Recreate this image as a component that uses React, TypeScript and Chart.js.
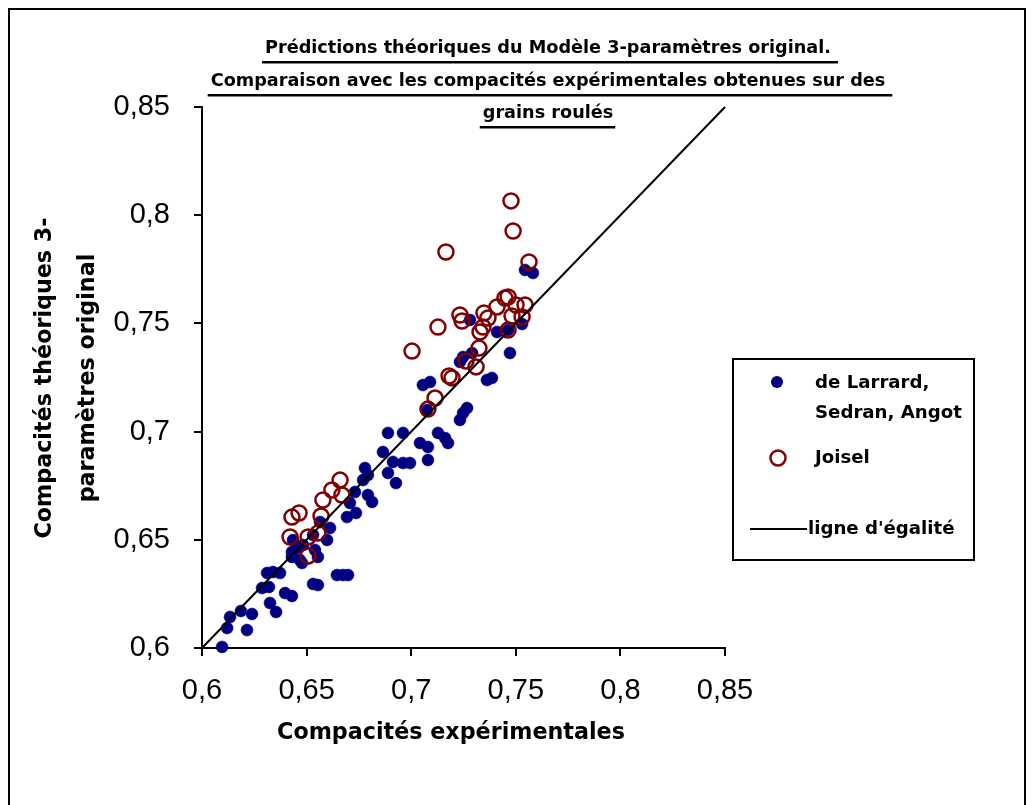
import React, { useEffect, useRef } from "react";
import { Chart, registerables } from "chart.js";

Chart.register(...registerables);

// ---- Data ----
const larrardX = [
  0.6096, 0.612, 0.6134, 0.6186, 0.6239, 0.6215, 0.6287, 0.632, 0.6311, 0.6339,
  0.6373, 0.6325, 0.6354, 0.6397, 0.643, 0.643, 0.6468, 0.6435, 0.643, 0.6478,
  0.654, 0.6554, 0.6598, 0.6564, 0.6612, 0.6645, 0.6674, 0.6698, 0.6531, 0.6554,
  0.6707, 0.6736, 0.6731, 0.6779, 0.677, 0.6793, 0.6793, 0.6813, 0.6865, 0.6889,
  0.6961, 0.6913, 0.6961, 0.6994, 0.6889, 0.6927, 0.7042, 0.708, 0.708, 0.7128,
  0.7162, 0.7176, 0.7233, 0.7248, 0.7267, 0.7076, 0.7056, 0.709, 0.7362, 0.7386,
  0.7233, 0.7248, 0.7291, 0.7281, 0.741, 0.7463, 0.753, 0.7472, 0.7544, 0.7582,
  0.6454, 0.6483, 0.6531, 0.6693,
];
const larrardY = [
  0.6005, 0.6092, 0.6143, 0.6171, 0.6157, 0.6083, 0.6277, 0.6282, 0.6347, 0.6351,
  0.6347, 0.6208, 0.6166, 0.6254, 0.624, 0.6421, 0.6407, 0.6499, 0.6444, 0.6393,
  0.6453, 0.6421, 0.6499, 0.6582, 0.6555, 0.6337, 0.6337, 0.6337, 0.6296, 0.6291,
  0.667, 0.6624, 0.6721, 0.6832, 0.6776, 0.6799, 0.6707, 0.6675, 0.6906, 0.6994,
  0.6994, 0.686, 0.6855, 0.6855, 0.6809, 0.6762, 0.6947, 0.6929, 0.6869, 0.6994,
  0.697, 0.6947, 0.7054, 0.7086, 0.7109, 0.71, 0.7215, 0.7229, 0.7238, 0.7248,
  0.7322, 0.7345, 0.7363, 0.7516, 0.746, 0.7469, 0.7497, 0.7363, 0.7747, 0.7733,
  0.6462, 0.6476, 0.6522, 0.6605,
];
const joiselX = [
  0.7477, 0.7487, 0.7166, 0.7563, 0.7004, 0.7128, 0.7233, 0.7243, 0.7348, 0.7367,
  0.741, 0.7448, 0.7463, 0.7501, 0.7544, 0.7482, 0.753, 0.7463, 0.7329, 0.7343,
  0.7324, 0.7262, 0.731, 0.7181, 0.7195, 0.7114, 0.708, 0.666, 0.6621, 0.6669,
  0.6578, 0.6464, 0.643, 0.6569, 0.6421, 0.6507, 0.6554, 0.6507,
];
const joiselY = [
  0.8066, 0.7927, 0.783, 0.7784, 0.7372, 0.7483, 0.7539, 0.7511, 0.7548, 0.7525,
  0.7576, 0.7617, 0.7622, 0.7585, 0.7585, 0.7534, 0.753, 0.7469, 0.746, 0.7483,
  0.7386, 0.7326, 0.7299, 0.7257, 0.7248, 0.7155, 0.7104, 0.6776, 0.673, 0.6707,
  0.6684, 0.6624, 0.6605, 0.661, 0.6513, 0.6513, 0.6531, 0.6425,
];
const equalityX = [0.6, 0.85];
const equalityY = [0.6, 0.85];
const axisTicks = [0.6, 0.65, 0.7, 0.75, 0.8, 0.85];

const titleLines = [
  "Prédictions théoriques du Modèle 3-paramètres original.",
  "Comparaison avec les compacités expérimentales obtenues sur des",
  "grains roulés",
];
const xTitle = "Compacités expérimentales";
const yTitleLines = ["Compacités théoriques 3-", "paramètres original"];
const legendLabels = ["de Larrard,", "Sedran, Angot", "Joisel", "ligne d'égalité"];

const BLUE = "#000080";
const RED = "#800000";
const FAMILY = '"DejaVu Sans", sans-serif';

const fmt = (v: number) => String(+Number(v).toFixed(2)).replace(".", ",");

function fitSize(ctx: CanvasRenderingContext2D, text: string, target: number) {
  ctx.font = `bold 20px ${FAMILY}`;
  const w = ctx.measureText(text).width;
  return (20 * target) / w;
}

const decor = {
  id: "decor",
  beforeDraw(chart: any) {
    const { ctx, width, height } = chart;
    ctx.save();
    ctx.fillStyle = "#fff";
    ctx.fillRect(0, 0, width, height);
    ctx.restore();
  },
  afterDraw(chart: any) {
    const ctx: CanvasRenderingContext2D = chart.ctx;
    ctx.save();
    // frame
    ctx.strokeStyle = "#000";
    ctx.lineWidth = 2;
    ctx.strokeRect(1, 1, 1016, 900);

    // title
    ctx.fillStyle = "#000";
    const ts = fitSize(ctx, titleLines[1], 675);
    ctx.font = `bold ${ts}px ${FAMILY}`;
    ctx.textAlign = "center";
    ctx.textBaseline = "middle";
    const tY = [40, 73, 105];
    titleLines.forEach((line, i) => {
      const w = ctx.measureText(line).width;
      ctx.fillText(line, 540, tY[i]);
      const left = 540 - w / 2;
      ctx.fillRect(left - 3, tY[i] + 13, w + (i === 2 ? 5 : 10), 2.5);
    });

    // x title
    const as = fitSize(ctx, xTitle, 348);
    ctx.font = `bold ${as}px ${FAMILY}`;
    ctx.fillText(xTitle, 443, 725);

    // y title
    ctx.save();
    ctx.translate(37, 370);
    ctx.rotate(-Math.PI / 2);
    ctx.fillText(yTitleLines[0], 0, 0);
    ctx.restore();
    ctx.save();
    ctx.translate(80, 370);
    ctx.rotate(-Math.PI / 2);
    ctx.fillText(yTitleLines[1], 0, 0);
    ctx.restore();

    // legend
    ctx.lineWidth = 2;
    ctx.strokeRect(725, 351, 241, 201);
    const ls = fitSize(ctx, legendLabels[1], 147);
    ctx.font = `bold ${ls}px ${FAMILY}`;
    ctx.textAlign = "left";
    ctx.fillText(legendLabels[0], 807, 375);
    ctx.fillText(legendLabels[1], 807, 405);
    ctx.fillText(legendLabels[2], 807, 450);
    ctx.fillText(legendLabels[3], 800, 521);
    ctx.fillStyle = BLUE;
    ctx.beginPath();
    ctx.arc(769, 374, 6, 0, Math.PI * 2);
    ctx.fill();
    ctx.strokeStyle = RED;
    ctx.lineWidth = 2.5;
    ctx.beginPath();
    ctx.arc(770, 450, 7.5, 0, Math.PI * 2);
    ctx.stroke();
    ctx.strokeStyle = "#000";
    ctx.lineWidth = 2;
    ctx.beginPath();
    ctx.moveTo(742, 521);
    ctx.lineTo(799, 521);
    ctx.stroke();
    ctx.restore();
  },
};

export default function App() {
  const ref = useRef<HTMLCanvasElement | null>(null);
  useEffect(() => {
    if (!ref.current) return;
    const tickFont = { family: '"Liberation Sans", Arial, sans-serif', size: 29 };
    const chart = new Chart(ref.current, {
      type: "scatter",
      data: {
        datasets: [
          {
            label: "ligne d'égalité",
            type: "line",
            data: equalityX.map((x, i) => ({ x, y: equalityY[i] })),
            borderColor: "#000",
            borderWidth: 2,
            pointRadius: 0,
            showLine: true,
            fill: false,
            order: 1,
            clip: false,
          } as any,
          {
            label: "Joisel",
            data: joiselX.map((x, i) => ({ x, y: joiselY[i] })),
            backgroundColor: "rgba(0,0,0,0)",
            borderColor: RED,
            pointRadius: 7.5,
            pointBorderWidth: 2.5,
            order: 2,
            clip: false,
          },
          {
            label: "de Larrard, Sedran, Angot",
            data: larrardX.map((x, i) => ({ x, y: larrardY[i] })),
            backgroundColor: BLUE,
            borderColor: BLUE,
            pointRadius: 6,
            pointBorderWidth: 0.5,
            order: 3,
            clip: false,
          },
        ],
      },
      options: {
        animation: false,
        responsive: false,
        events: [],
        layout: { padding: { left: 0, top: 99, right: 301, bottom: 0 } },
        plugins: { legend: { display: false }, tooltip: { enabled: false }, title: { display: false } },
        scales: {
          x: {
            type: "linear",
            min: 0.6,
            max: 0.85,
            afterBuildTicks: (s: any) => {
              s.ticks = axisTicks.map((v) => ({ value: v }));
            },
            afterFit: (s: any) => {
              s.height = 157;
            },
            ticks: {
              callback: (v: any) => fmt(v),
              font: tickFont,
              color: "#000",
              padding: 18,
              maxRotation: 0,
              autoSkip: false,
            },
            grid: { drawOnChartArea: false, drawTicks: true, tickLength: 8, color: "#000", lineWidth: 2 },
            border: { display: true, color: "#000", width: 2 },
          },
          y: {
            type: "linear",
            min: 0.6,
            max: 0.85,
            afterBuildTicks: (s: any) => {
              s.ticks = axisTicks.map((v) => ({ value: v }));
            },
            afterFit: (s: any) => {
              s.width = 194;
            },
            ticks: {
              callback: (v: any) => fmt(v),
              font: tickFont,
              color: "#000",
              padding: 24,
              autoSkip: false,
            },
            grid: { drawOnChartArea: false, drawTicks: true, tickLength: 8, color: "#000", lineWidth: 2 },
            border: { display: true, color: "#000", width: 2 },
          },
        },
      },
      plugins: [decor],
    } as any);
    return () => chart.destroy();
  }, []);
  return (
    <div style={{ width: 1018, height: 797 }}>
      <canvas ref={ref} width={1018} height={797} style={{ display: "block" }} />
    </div>
  );
}
